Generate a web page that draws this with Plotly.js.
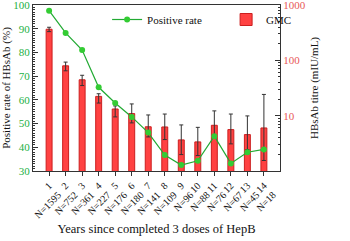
<!DOCTYPE html>
<html>
<head>
<meta charset="utf-8">
<script src="https://cdn.plot.ly/plotly-3.0.1.min.js"></script>
<style>html,body{margin:0;padding:0;background:#fff;}#chart{width:350px;height:241px;}</style>
</head>
<body>
<div id="chart"></div>
<script>
const years = ["1","2","3","4","5","6","7","8","9","10","11","12","13","14"];
const sampleN = [1595,752,361,227,176,180,141,109,96,88,76,67,45,18];
const positiveRate = [97.6,88.2,81.0,65.3,58.7,52.8,46.2,36.7,32.5,34.3,44.7,33.2,37.9,39.1];
const gmc = [365,79.6,44.5,22.3,13.2,10.9,6.3,6.25,3.65,3.36,6.7,5.6,4.55,6.0];
const gmcUpper = [396,92.9,53.7,24.9,15.0,16.3,10.3,10.7,6.8,6.15,12.2,10.7,9.9,24.2];
const gmcLower = [330,64.7,35.0,16.9,9.5,7.4,4.13,3.70,1.98,1.90,3.96,3.09,2.44,1.55];
const tickText = years.map((y,i) => y + "<br>N=" + sampleN[i]);

const serif = "Liberation Serif, DejaVu Serif, serif";

const rateTrace = {
  type: "scatter", mode: "lines+markers", name: "Positive rate",
  x: years, y: positiveRate, xaxis: "x", yaxis: "y2",
  line: {color: "#22aa33", width: 1.2},
  marker: {color: "#33cc33", size: 6}
};
const gmcTrace = {
  type: "bar", name: "GMC", x: years, y: gmc, xaxis: "x", yaxis: "y",
  width: 0.36,
  marker: {color: "rgba(255,45,45,0.9)", line: {color: "#cc1f1f", width: 1}},
  error_y: {
    type: "data", symmetric: false,
    array: gmcUpper.map((u,i) => u - gmc[i]),
    arrayminus: gmcLower.map((l,i) => gmc[i] - l),
    color: "#333", thickness: 1, width: 2
  }
};

const layout = {
  width: 350, height: 241,
  margin: {l: 33, r: 40, t: 5, b: 70},
  paper_bgcolor: "#fff", plot_bgcolor: "#fff",
  font: {family: serif, size: 11, color: "#111"},
  showlegend: true,
  legend: {
    orientation: "h", x: 0.3, xanchor: "left", y: 1.0, yanchor: "top",
    bgcolor: "rgba(0,0,0,0)", font: {family: serif, size: 11, color: "#111"},
    entrywidth: 74, entrywidthmode: "pixels", traceorder: "normal"
  },
  bargap: 0.6,
  xaxis: {
    type: "category", tickvals: years, ticktext: tickText, tickangle: -45,
    ticks: "outside", ticklen: 4, tickcolor: "#333",
    showline: true, linecolor: "#333", linewidth: 1, mirror: true,
    showgrid: false, zeroline: false, automargin: true,
    tickfont: {family: serif, size: 10, color: "#111"},
    title: {text: "Years since completed 3 doses of HepB", font: {family: serif, size: 12.5, color: "#111"}, standoff: 4}
  },
  yaxis: {
    type: "log", side: "right", range: [0, 3],
    tickvals: [10, 100, 1000], ticktext: ["10","100","1000"],
    ticks: "inside", ticklen: 5, tickcolor: "#333", ticklabeloverflow: "allow",
    minor: {dtick: "D1", ticks: "inside", ticklen: 2.5, tickcolor: "#333"},
    showline: true, linecolor: "#333", linewidth: 1,
    showgrid: false, zeroline: false,
    tickfont: {family: serif, size: 11, color: "#e85858"},
    title: {text: "HBsAb titre (mIU/mL)", font: {family: serif, size: 11, color: "#111"}}
  },
  yaxis2: {
    overlaying: "y", side: "left", range: [30, 100], dtick: 10,
    ticks: "inside", ticklen: 5, tickcolor: "#333", ticklabeloverflow: "allow",
    minor: {dtick: 1, ticks: "inside", ticklen: 2, tickcolor: "#333"},
    showline: true, linecolor: "#333", linewidth: 1,
    showgrid: false, zeroline: false,
    tickfont: {family: serif, size: 11, color: "#22b044"},
    title: {text: "Positive rate of HBsAb (%)", font: {family: serif, size: 11, color: "#111"}}
  }
};

Plotly.newPlot("chart", [rateTrace, gmcTrace], layout, {displayModeBar: false, staticPlot: true});
</script>
</body>
</html>
